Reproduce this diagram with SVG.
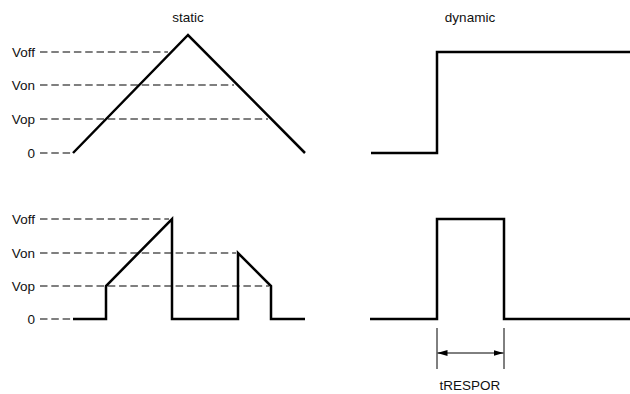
<svg xmlns="http://www.w3.org/2000/svg" width="630" height="394" viewBox="0 0 630 394">
<defs>
<style>
.lbl{font-family:"Liberation Sans",Arial,sans-serif;font-size:13.5px;fill:#111;}
.wave{fill:none;stroke:#000;stroke-width:2.5;stroke-linejoin:miter;}
.dash{fill:none;stroke:#555;stroke-width:1.3;stroke-dasharray:7.5 3.8;}
.thin{fill:none;stroke:#000;stroke-width:1;}
</style>
<marker id="ah" viewBox="0 0 10 6" refX="10" refY="3" markerWidth="10" markerHeight="6" markerUnits="userSpaceOnUse" orient="auto-start-reverse">
<path d="M0,0 L10,3 L0,6 Z" fill="#000"/>
</marker>
</defs>
<rect width="630" height="394" fill="#fff"/>
<g id="titles">
<text class="lbl" x="188" y="22" text-anchor="middle">static</text>
<text class="lbl" x="470" y="22" text-anchor="middle">dynamic</text>
</g>
<g id="static-top">
<text class="lbl" x="35" y="57" text-anchor="end">Voff</text>
<text class="lbl" x="35" y="90" text-anchor="end">Von</text>
<text class="lbl" x="35" y="124" text-anchor="end">Vop</text>
<text class="lbl" x="35" y="158" text-anchor="end">0</text>
<path class="dash" d="M40,52 H168 M40,85 H234 M40,119 H268 M40,153 H72"/>
<path class="wave" d="M73,153 L188,35 L305,153"/>
</g>
<g id="static-bottom">
<text class="lbl" x="35" y="224" text-anchor="end">Voff</text>
<text class="lbl" x="35" y="258" text-anchor="end">Von</text>
<text class="lbl" x="35" y="291" text-anchor="end">Vop</text>
<text class="lbl" x="35" y="324" text-anchor="end">0</text>
<path class="dash" d="M40,219 H169 M40,253 H236 M40,286 H269 M40,319 H72"/>
<path class="wave" d="M73,319 H106 V286 L172,219 V319 H238 V253 L271,286 V319 H305"/>
</g>
<g id="dynamic-top">
<path class="wave" d="M371,153 H437 V52 H630"/>
</g>
<g id="dynamic-bottom">
<path class="wave" d="M370,319 H437 V219 H504 V319 H630"/>
</g>
<g id="connectors">
<path class="thin" d="M437,328 V369 M504,328 V369"/>
<line class="thin" x1="437.5" y1="353" x2="503.5" y2="353" marker-start="url(#ah)" marker-end="url(#ah)"/>
<text class="lbl" x="470" y="390" text-anchor="middle">tRESPOR</text>
</g>
</svg>
